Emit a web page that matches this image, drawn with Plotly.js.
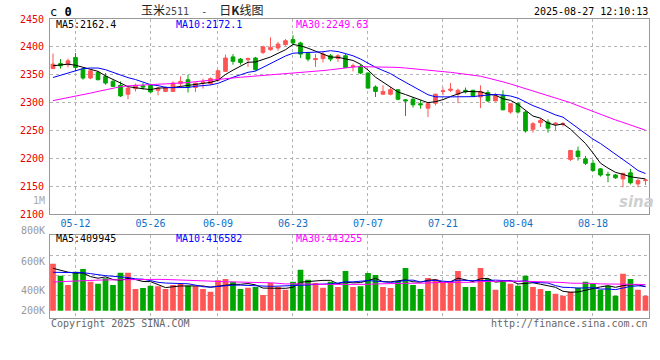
<!DOCTYPE html>
<html><head><meta charset="utf-8">
<script src="https://cdn.plot.ly/plotly-3.0.1.min.js"></script>
<style>html,body{margin:0;padding:0;background:#fff;}#chart{width:660px;height:360px;}</style>
</head><body><div id="chart"></div>
<script>
// ---------- data ----------
const dates = [
 '2025-05-07','2025-05-08','2025-05-09','2025-05-12','2025-05-13','2025-05-14','2025-05-15','2025-05-16','2025-05-19','2025-05-20',
 '2025-05-21','2025-05-22','2025-05-23','2025-05-26','2025-05-27','2025-05-28','2025-05-29','2025-05-30','2025-06-03','2025-06-04',
 '2025-06-05','2025-06-06','2025-06-09','2025-06-10','2025-06-11','2025-06-12','2025-06-13','2025-06-16','2025-06-17','2025-06-18',
 '2025-06-19','2025-06-20','2025-06-23','2025-06-24','2025-06-25','2025-06-26','2025-06-27','2025-06-30','2025-07-01','2025-07-02',
 '2025-07-03','2025-07-04','2025-07-07','2025-07-08','2025-07-09','2025-07-10','2025-07-11','2025-07-14','2025-07-15','2025-07-16',
 '2025-07-17','2025-07-18','2025-07-21','2025-07-22','2025-07-23','2025-07-24','2025-07-25','2025-07-28','2025-07-29','2025-07-30',
 '2025-07-31','2025-08-01','2025-08-04','2025-08-05','2025-08-06','2025-08-07','2025-08-08','2025-08-11','2025-08-12','2025-08-13',
 '2025-08-14','2025-08-15','2025-08-18','2025-08-19','2025-08-20','2025-08-21','2025-08-22','2025-08-25','2025-08-26','2025-08-27'];
const open = [2361,2370,2368,2381,2360,2344,2354,2347,2338,2331, 2315,2325,2330,2331,2322,2320,2320,2334,2341,2327,
 2336,2334,2340,2356,2382,2378,2377,2380,2390,2395, 2398,2404,2413,2407,2388,2377,2379,2384,2379,2384,
 2365,2365,2353,2328,2315,2315,2323,2305,2306,2298, 2290,2299,2320,2322,2315,2322,2322,2310,2318,2303,
 2313,2283,2298,2283,2252,2264,2265,2261,2261,2198, 2213,2199,2191,2181,2171,2170,2163,2174,2154,2160];
const high = [2388,2378,2379,2389,2361,2359,2357,2353,2341,2338, 2329,2334,2335,2334,2328,2329,2338,2347,2350,2336,
 2343,2345,2359,2386,2387,2380,2381,2382,2402,2417, 2409,2414,2421,2409,2391,2387,2391,2387,2387,2388,
 2370,2368,2354,2331,2331,2328,2324,2306,2310,2304, 2301,2316,2327,2335,2325,2327,2323,2331,2322,2317,
 2322,2299,2301,2285,2265,2272,2270,2265,2265,2215, 2221,2204,2197,2182,2176,2172,2174,2181,2163,2163];
const low = [2360,2361,2363,2356,2341,2342,2340,2332,2328,2310, 2306,2320,2323,2318,2313,2319,2319,2329,2318,2319,
 2325,2332,2338,2355,2368,2368,2364,2357,2387,2393, 2393,2402,2405,2380,2374,2364,2372,2374,2373,2362,
 2356,2351,2325,2310,2314,2313,2304,2276,2291,2289, 2274,2295,2313,2319,2299,2316,2310,2290,2301,2302,
 2286,2280,2280,2246,2246,2256,2246,2250,2257,2195, 2196,2188,2176,2167,2157,2163,2148,2153,2148,2152];
const close = [2369,2366,2375,2363,2344,2357,2341,2335,2329,2312, 2326,2331,2328,2319,2326,2327,2335,2338,2328,2335,
 2337,2343,2357,2380,2374,2372,2379,2359,2400,2399, 2405,2411,2407,2387,2378,2379,2387,2378,2384,2363,
 2366,2353,2326,2320,2320,2323,2306,2303,2296,2296, 2298,2315,2321,2324,2322,2319,2312,2320,2303,2312,
 2287,2298,2283,2249,2262,2268,2254,2263,2262,2214, 2203,2191,2178,2170,2170,2165,2173,2156,2160,2161];
const ma5 = [2366,2367,2369,2367,2363.4,2361.0,2356.0,2348.0,2341.2,2334.8, 2328.6,2326.6,2325.2,2323.2,2326.0,2326.2,2327.0,2329.0,2330.8,2332.6,
 2334.6,2336.2,2340.0,2350.4,2358.2,2365.2,2372.4,2372.8,2376.8,2381.8, 2388.4,2394.8,2404.4,2401.8,2397.6,2392.4,2387.6,2381.8,2381.2,2378.2,
 2375.6,2368.8,2358.4,2345.6,2337.0,2328.4,2319.0,2314.4,2309.6,2304.8, 2299.8,2301.6,2305.2,2310.8,2316.0,2320.2,2319.6,2319.4,2315.2,2313.2,
 2306.8,2304.0,2296.6,2285.8,2275.8,2272.0,2263.2,2259.2,2261.8,2252.2, 2239.2,2226.6,2209.6,2191.2,2182.4,2174.8,2171.2,2166.8,2164.8,2163.0];
const ma10 = [2345,2349,2353,2357,2361,2362,2362,2359,2354,2349.1, 2344.8,2341.3,2336.6,2332.2,2330.4,2327.4,2326.8,2327.1,2327.0,2329.3,
 2330.4,2331.6,2334.5,2340.6,2345.4,2349.9,2354.3,2356.4,2363.6,2370.0, 2376.8,2383.6,2388.6,2389.3,2389.7,2390.4,2391.2,2393.1,2391.5,2387.9,
 2384.0,2378.2,2370.1,2363.4,2357.6,2352.0,2343.9,2336.4,2327.6,2320.9, 2314.1,2310.3,2309.8,2310.2,2310.4,2310.0,2310.6,2312.3,2313.0,2314.6,
 2313.5,2311.8,2308.0,2300.5,2294.5,2289.4,2283.6,2277.9,2273.8,2264.0, 2255.6,2244.9,2234.4,2226.5,2217.3,2207.0,2198.9,2188.2,2178.0,2172.7];
const ma30 = [2303.5,2306,2309,2312,2314.5,2317,2320,2323,2325.8,2328.5, 2330,2331,2331.8,2332.5,2333,2333.5,2334,2335,2336,2337.5,
 2339,2340.5,2341.5,2342.5,2344,2345.5,2346.5,2347.5,2348.5,2349.5, 2350.7,2352.2,2353.2,2354.0,2355.2,2355.9,2357.4,2358.9,2360.7,2362.4,
 2363.7,2364.5,2364.4,2364.4,2364.2,2364.1,2363.1,2362.0,2360.9,2359.6, 2358.3,2357.4,2356.2,2354.3,2352.6,2350.8,2348.6,2347.3,2344.0,2341.1,
 2337.2,2333.4,2329.3,2324.7,2320.8,2317.1,2312.7,2308.9,2304.8,2299.8, 2294.4,2289.0,2284.1,2279.1,2274.1,2268.8,2264.4,2259.5,2254.9,2250.4];
// volume, in thousands of lots
const volumeK = [799,595,437,663,709,493,459,551,437,646, 646,369,386,425,415,369,437,459,425,415,
 369,323,517,539,493,369,391,403,267,471, 403,357,493,697,527,471,391,493,403,675,
 403,415,641,607,403,386,505,726,437,369, 556,539,493,505,675,403,403,726,539,357,
 493,459,425,595,403,369,335,289,255,323, 391,493,459,357,425,255,629,539,357,255];
const volMa5K = [721,692,655,640,640.6,579.4,552.2,575,529.8,517.2, 547.8,529.8,496.8,494.4,448.2,392.8,406.4,421,421,421,
 421,398.2,409.8,432.6,448.2,448.2,461.8,439,384.6,380.2, 387,380.2,398.2,484.2,495.4,509,515.8,515.8,457,486.6,
 473,477.8,507.4,548.2,493.8,490.4,508.4,525.4,491.4,484.6, 518.6,525.4,478.8,492.4,553.6,523,495.8,542.4,549.2,485.6,
 503.6,514.8,454.6,465.8,475,450.2,425.4,398.2,330.2,314.2, 318.6,350.2,384.2,404.6,425,397.8,425,441,441,407];
const volMa10K = [653,652,650,648,646,630,610,595,585,578.9, 563.6,541,535.9,512.1,482.7,470.3,468.1,458.9,457.7,434.6,
 406.9,402.3,415.4,426.8,434.6,434.6,430,424.4,408.6,414.2, 417.6,421,418.6,434.4,437.8,448,448,457,470.6,491,
 491,496.8,511.6,502.6,490.2,481.7,493.1,516.4,519.8,489.2, 504.5,516.9,502.1,491.9,519.1,520.8,510.6,510.6,520.8,519.6,
 513.3,505.3,498.5,507.5,480.3,476.9,470.1,426.4,398,394.6, 384.4,387.8,391.2,367.4,369.6,358.2,387.6,412.6,422.8,416];
const volMa30K = [488,495,502,510,515,518,520,523,526,529, 531,533,534,534,533,531,528,525,522,518,
 512,505,498,492,487,484,481,479,477,475.9, 462.7,454.8,456.6,457.8,451.7,451,448.7,446.8,445.6,446.6,
 438.5,440,448.5,454.6,454.2,454.8,457,465.9,466.3,464.8, 471,478.2,477.4,476.3,482.4,483.5,483.9,494.7,503.7,499.9,
 502.9,506.3,504.1,500.7,496.5,493.1,491.3,484.5,479.5,467.8, 467.4,470,463.9,455.6,456.3,452,456.1,449.9,447.2,443.4];

const tickDates  = ['2025-05-12','2025-05-26','2025-06-09','2025-06-23','2025-07-07','2025-07-21','2025-08-04','2025-08-18'];
const tickLabels = ['05-12','05-26','06-09','06-23','07-07','07-21','08-04','08-18'];
const priceTicks = [2100,2150,2200,2250,2300,2350,2400,2450];
const volTickLabels = ['800K','600K','400K','200K'];
const priceMaText = ['MA5:2162.4','MA10:2172.1','MA30:2249.63'];
const volMaText   = ['MA5:409945','MA10:416582','MA30:443255'];
const titleParts = ['玉米', '2511', '-', '日', 'K', '线图'];
const stampText = '2025-08-27 12:10:13';

// ---------- styling / layout ----------
const W = 660, H = 360;
const X = p => p / W, Y = p => 1 - p / H;
const RED = '#ff5555', GREEN = '#00a600';
const MONO = 'DejaVu Sans Mono';
const MA_COLORS = ['#000000', '#0000ff', '#ff00ff'];
const idx = dates.map((d, i) => i);
const barColors = close.map((c, i) => c >= open[i] ? RED : GREEN);

const traces = [
  {type:'candlestick', x:idx, open:open, high:high, low:low, close:close, xaxis:'x', yaxis:'y',
   increasing:{line:{color:RED, width:1}, fillcolor:RED},
   decreasing:{line:{color:GREEN, width:1}, fillcolor:GREEN},
   whiskerwidth:0, hoverinfo:'skip'},
  {type:'scatter', mode:'lines', x:idx, y:ma5,  line:{color:MA_COLORS[0], width:1}, xaxis:'x', yaxis:'y'},
  {type:'scatter', mode:'lines', x:idx, y:ma10, line:{color:MA_COLORS[1], width:1}, xaxis:'x', yaxis:'y'},
  {type:'scatter', mode:'lines', x:idx, y:ma30, line:{color:MA_COLORS[2], width:1}, xaxis:'x', yaxis:'y'},
  {type:'bar', x:idx, y:volumeK, marker:{color:barColors, line:{width:0}}, xaxis:'x', yaxis:'y2'},
  {type:'scatter', mode:'lines', x:idx, y:volMa5K,  line:{color:MA_COLORS[0], width:1}, xaxis:'x', yaxis:'y2'},
  {type:'scatter', mode:'lines', x:idx, y:volMa10K, line:{color:MA_COLORS[1], width:1}, xaxis:'x', yaxis:'y2'},
  {type:'scatter', mode:'lines', x:idx, y:volMa30K, line:{color:MA_COLORS[2], width:1}, xaxis:'x', yaxis:'y2'}
];

const gridStyle = {showgrid:true, gridcolor:'#b4b4b4', griddash:'dot', gridwidth:1, zeroline:false,
                   showline:true, linecolor:'#999', linewidth:1};
const annotations = [];
const txt = (text, x, y, xanchor, font) => annotations.push({text:text, x:X(x), y:Y(y), xref:'paper', yref:'paper',
  xanchor:xanchor, yanchor:'middle', showarrow:false, font:font});

txt('c <b>0</b>', 48, 12, 'left', {family:MONO, size:12, color:'#000'});
// title: CJK parts in Noto Sans CJK, the contract number and dash in a monospace face
const NB = '\u00a0';
const titleText = titleParts[0] +
  '<span style="font-family:DejaVu Sans Mono;font-size:10px;color:#444">' + titleParts[1] + NB + NB + titleParts[2] + NB + NB + '</span>' +
  titleParts[3] + '<b>' + titleParts[4] + '</b>' + titleParts[5];
txt(titleText, 139, 9, 'left', {family:'Noto Sans CJK SC', size:12, color:'#222'});
txt(stampText, 650, 12, 'right', {family:MONO, size:10, color:'#000'});
const maX = [54, 174, 294];
priceMaText.forEach((t, i) => txt(t, maX[i], 24.5, 'left', {family:MONO, size:10, color:MA_COLORS[i]}));
volMaText.forEach((t, i) => txt(t, maX[i], 238.5, 'left', {family:MONO, size:10, color:MA_COLORS[i]}));
const volLabelY = [230.5, 261, 290.5, 310.5];
volTickLabels.forEach((t, i) => txt(t, 46.5, volLabelY[i], 'right', {family:MONO, size:10, color:'#999'}));
txt('1M', 46.5, 200, 'right', {family:MONO, size:10, color:'#aaa'});
txt('Copyright 2025 SINA.COM', 49, 323, 'left', {family:MONO, size:10, color:'#666'});
txt('http://finance.sina.com.cn', 650, 323, 'right', {family:MONO, size:10, color:'#666'});
txt('sina', 636, 202, 'center', {family:'DejaVu Sans', size:15, color:'#cfcfcf', weight:'bold', style:'italic'});

const layout = {
  width:W, height:H, margin:{l:0, r:0, t:0, b:0, pad:0},
  paper_bgcolor:'#fff', plot_bgcolor:'#fff', showlegend:false,
  boxgap:0.3, bargap:0.24,
  xaxis:Object.assign({}, gridStyle, {domain:[X(50), X(649)], range:[-0.4, 79.47], anchor:'y',
    tickmode:'array', tickvals:tickDates.map(d => dates.indexOf(d)), ticktext:tickLabels,
    ticks:'', tickfont:{family:MONO, size:10, color:'#1170c8'}, mirror:'all',
    rangeslider:{visible:false}, fixedrange:true}),
  yaxis:Object.assign({}, gridStyle, {domain:[Y(214), Y(19)], range:[2100, 2450], anchor:'x',
    tickmode:'array', tickvals:priceTicks, ticks:'', ticklabelstandoff:3,
    tickfont:{family:MONO, size:10, color:'#e60000'}, mirror:true}),
  yaxis2:Object.assign({}, gridStyle, {domain:[Y(318.3), Y(234.7)], range:[-129.2, 1292], anchor:'x',
    tickmode:'array', tickvals:[261.8, 601.8, 941.8], showticklabels:false, ticks:'', mirror:true}),
  annotations:annotations
};

Plotly.newPlot('chart', traces, layout, {staticPlot:true, displayModeBar:false});
</script>
</body></html>
